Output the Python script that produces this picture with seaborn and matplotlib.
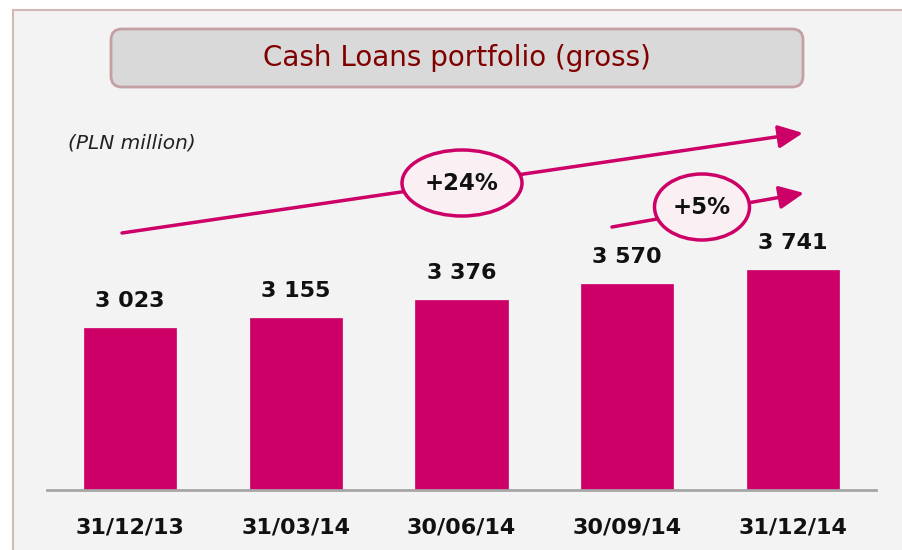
import matplotlib
matplotlib.use("Agg")
import matplotlib.pyplot as plt
from matplotlib.patches import FancyBboxPatch, Ellipse, Rectangle, FancyArrowPatch
import seaborn as sns
import pandas as pd

# Portfolio values per reporting date (PLN million)
dates = ["31/12/13", "31/03/14", "30/06/14", "30/09/14", "31/12/14"]
values = [3023, 3155, 3376, 3570, 3741]
value_labels = ["3 023", "3 155", "3 376", "3 570", "3 741"]
title = "Cash Loans portfolio (gross)"
unit_note = "(PLN million)"
growth_labels = ["+24%", "+5%"]

W, H = 903, 550
BAR = "#CC0066"
BG = "#F3F3F3"

sns.set_theme(style="white")
plt.rcParams["font.family"] = ["DejaVu Sans"]

fig = plt.figure(figsize=(W / 100, H / 100), dpi=100)
fig.patch.set_facecolor("white")


def fx(px):
    return px / W


def fy(py):
    return 1 - py / H


# panel background with thin border
fig.add_artist(Rectangle((fx(13), fy(600)), fx(950), 590 / H,
                         transform=fig.transFigure, facecolor=BG,
                         edgecolor="#D3B8B8", linewidth=1.5, zorder=0))

# title box
fig.add_artist(FancyBboxPatch((fx(111), fy(87)), fx(692), 58 / H,
                              boxstyle="round,pad=0,rounding_size=0.012",
                              transform=fig.transFigure, facecolor="#D9D9D9",
                              edgecolor="#C4A0A2", linewidth=2, zorder=1,
                              mutation_aspect=W / H))
fig.text(fx(457), fy(58), title, ha="center", va="center",
         fontsize=20, color="#800000", zorder=2)

fig.text(fx(68), fy(143), unit_note, ha="left", va="center",
         fontsize=14.5, fontstyle="italic", color="#222222")

# bar chart
ax = fig.add_axes([fx(47), fy(490), fx(876) - fx(47), (490 - 120) / H])
df = pd.DataFrame({"date": dates, "value": values})
sns.barplot(data=df, x="date", y="value", color=BAR, saturation=1,
            width=0.555, ax=ax, edgecolor=BAR, linewidth=0.5)
ax.set_xlim(-0.5, 4.5)
ax.set_ylim(1020, 5600)
ax.patch.set_alpha(0)
for s in ["top", "right", "left"]:
    ax.spines[s].set_visible(False)
ax.spines["bottom"].set_color("#A6A6A6")
ax.spines["bottom"].set_linewidth(2)
ax.set_yticks([])
ax.set_xlabel("")
ax.set_ylabel("")
ax.tick_params(axis="x", length=0, pad=20)
for lbl in ax.get_xticklabels():
    lbl.set_fontsize(16)
    lbl.set_fontweight("bold")
    lbl.set_color("#111111")

for i, (v, t) in enumerate(zip(values, value_labels)):
    ax.annotate(t, (i, v), xytext=(0, 27), textcoords="offset pixels",
                ha="center", va="center", fontsize=16, fontweight="bold",
                color="#111111")

# growth arrows with ellipse badges
arrows = [((122, 233), (803, 133)), ((612, 227), (804, 193))]
badges = [((462, 183), 120, 66), ((702, 207), 95, 66)]
for ((x0, y0), (x1, y1)), ((cx, cy), ew, eh), g in zip(arrows, badges, growth_labels):
    fig.add_artist(FancyArrowPatch((fx(x0), fy(y0)), (fx(x1), fy(y1)),
                                   transform=fig.transFigure,
                                   arrowstyle="-|>,head_length=15,head_width=7",
                                   mutation_scale=1, color=BAR,
                                   linewidth=2.5, zorder=3, shrinkA=0, shrinkB=0))
    fig.add_artist(Ellipse((fx(cx), fy(cy)), fx(ew), eh / H,
                           transform=fig.transFigure, facecolor="#FAF0F4",
                           edgecolor=BAR, linewidth=2.5, zorder=4))
    fig.text(fx(cx), fy(cy), g, ha="center", va="center", fontsize=16.5,
             fontweight="bold", color="#111111", zorder=5)

fig.savefig("out.png", dpi=100)
